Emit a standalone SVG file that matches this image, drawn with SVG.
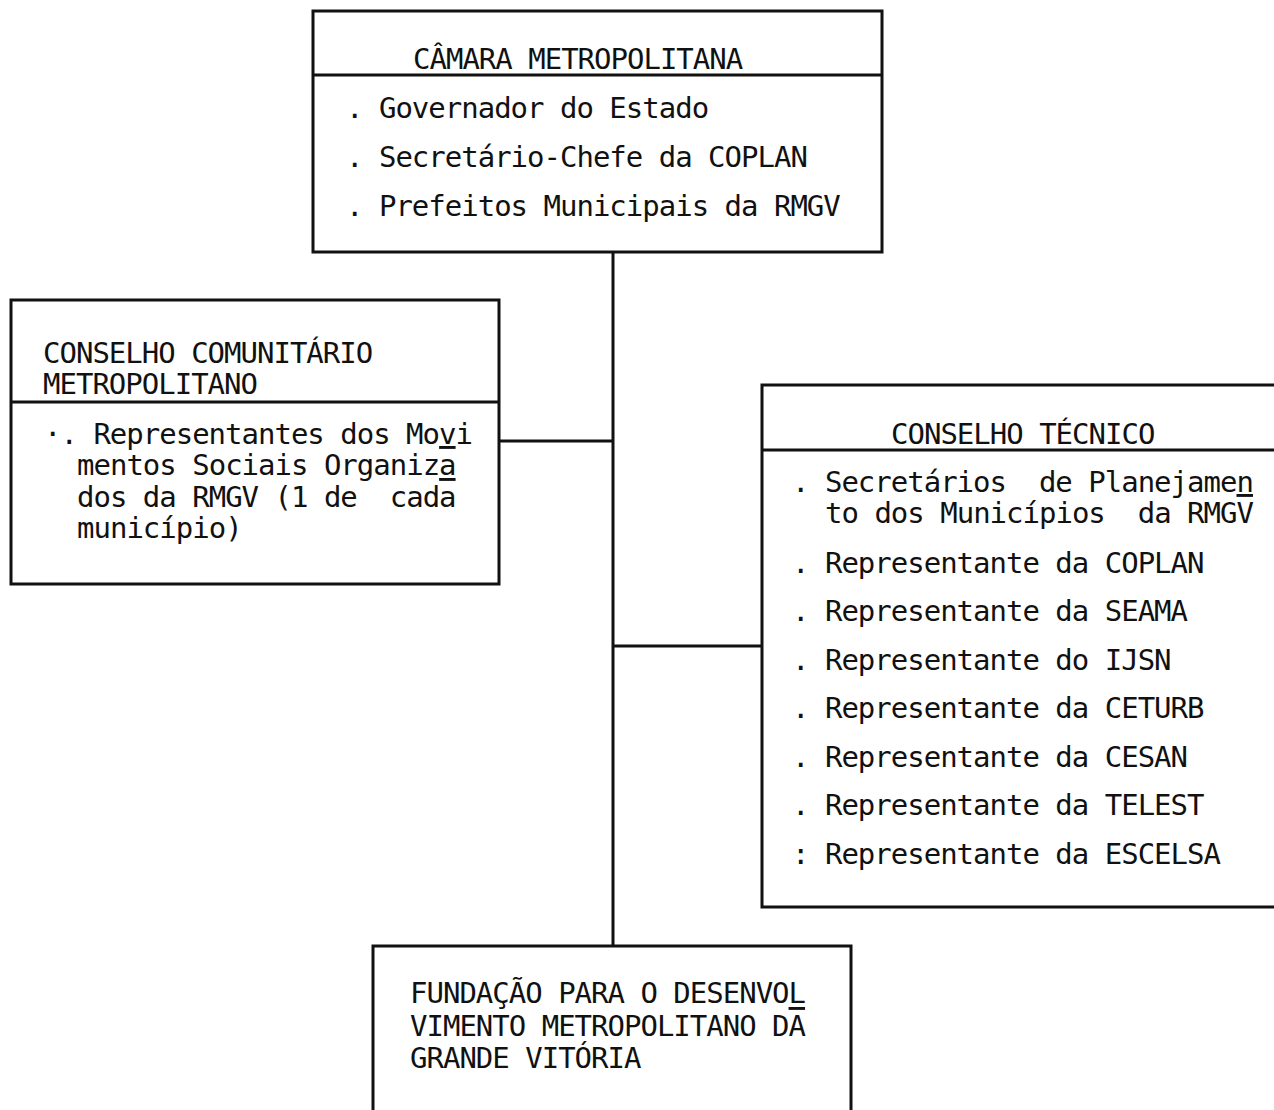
<svg xmlns="http://www.w3.org/2000/svg" width="1274" height="1110" viewBox="0 0 1274 1110">
<style>
.box{fill:none;stroke:#111;stroke-width:3}
.ln{stroke:#111;stroke-width:3;fill:none}
text{font-family:"DejaVu Sans Mono","Liberation Mono",monospace;font-size:29px;letter-spacing:-1px;fill:#111;white-space:pre}
.ov{text-decoration:overline}
</style>
<rect width="1274" height="1110" fill="#fff"/>
<g id="connectors">
<line class="ln" x1="613" y1="252" x2="613" y2="946"/>
<line class="ln" x1="499" y1="441" x2="613" y2="441"/>
<line class="ln" x1="613" y1="646" x2="762" y2="646"/>
</g>
<g id="camara">
<rect class="box" x="313" y="11" width="569" height="241"/>
<line class="ln" x1="313" y1="75" x2="882" y2="75"/>
<text x="413" y="69" xml:space="preserve">CÂMARA METROPOLITANA</text>
<text x="346" y="118" xml:space="preserve">. Governador do Estado</text>
<text x="346" y="167" xml:space="preserve">. Secretário-Chefe da COPLAN</text>
<text x="346" y="216" xml:space="preserve">. Prefeitos Municipais da RMGV</text>
</g>
<g id="conselho-comunitario">
<rect class="box" x="11" y="300" width="488" height="284"/>
<line class="ln" x1="11" y1="402" x2="499" y2="402"/>
<text x="43" y="363" xml:space="preserve">CONSELHO COMUNITÁRIO</text>
<text x="43" y="394" xml:space="preserve">METROPOLITANO</text>
<text x="44" y="444" xml:space="preserve">·. Representantes dos Movi</text>
<text x="77" y="475" xml:space="preserve">mentos Sociais Organiz<tspan class="ov">a</tspan></text>
<text x="77" y="507" xml:space="preserve">dos da RMGV (1 de  cad<tspan class="ov">a</tspan></text>
<text x="77" y="538" xml:space="preserve">município)</text>
</g>
<g id="conselho-tecnico">
<rect class="box" x="762" y="385" width="530" height="522"/>
<line class="ln" x1="762" y1="450" x2="1292" y2="450"/>
<text x="891" y="444" xml:space="preserve">CONSELHO TÉCNICO</text>
<text x="792" y="492" xml:space="preserve">. Secretários  de Planejamen</text>
<text x="825" y="523" xml:space="preserve">to dos Municípios  da RMG<tspan class="ov">V</tspan></text>
<text x="792" y="573" xml:space="preserve">. Representante da COPLAN</text>
<text x="792" y="621" xml:space="preserve">. Representante da SEAMA</text>
<text x="792" y="670" xml:space="preserve">. Representante do IJSN</text>
<text x="792" y="718" xml:space="preserve">. Representante da CETURB</text>
<text x="792" y="767" xml:space="preserve">. Representante da CESAN</text>
<text x="792" y="815" xml:space="preserve">. Representante da TELEST</text>
<text x="792" y="864" xml:space="preserve">: Representante da ESCELSA</text>
</g>
<g id="fundacao">
<rect class="box" x="373" y="946" width="478" height="190"/>
<text x="410" y="1003" xml:space="preserve">FUNDAÇÃO PARA O DESENVOL</text>
<text x="410" y="1036" xml:space="preserve">VIMENTO METROPOLITANO D<tspan class="ov">A</tspan></text>
<text x="410" y="1068" xml:space="preserve">GRANDE VITÓRIA</text>
</g>
</svg>
